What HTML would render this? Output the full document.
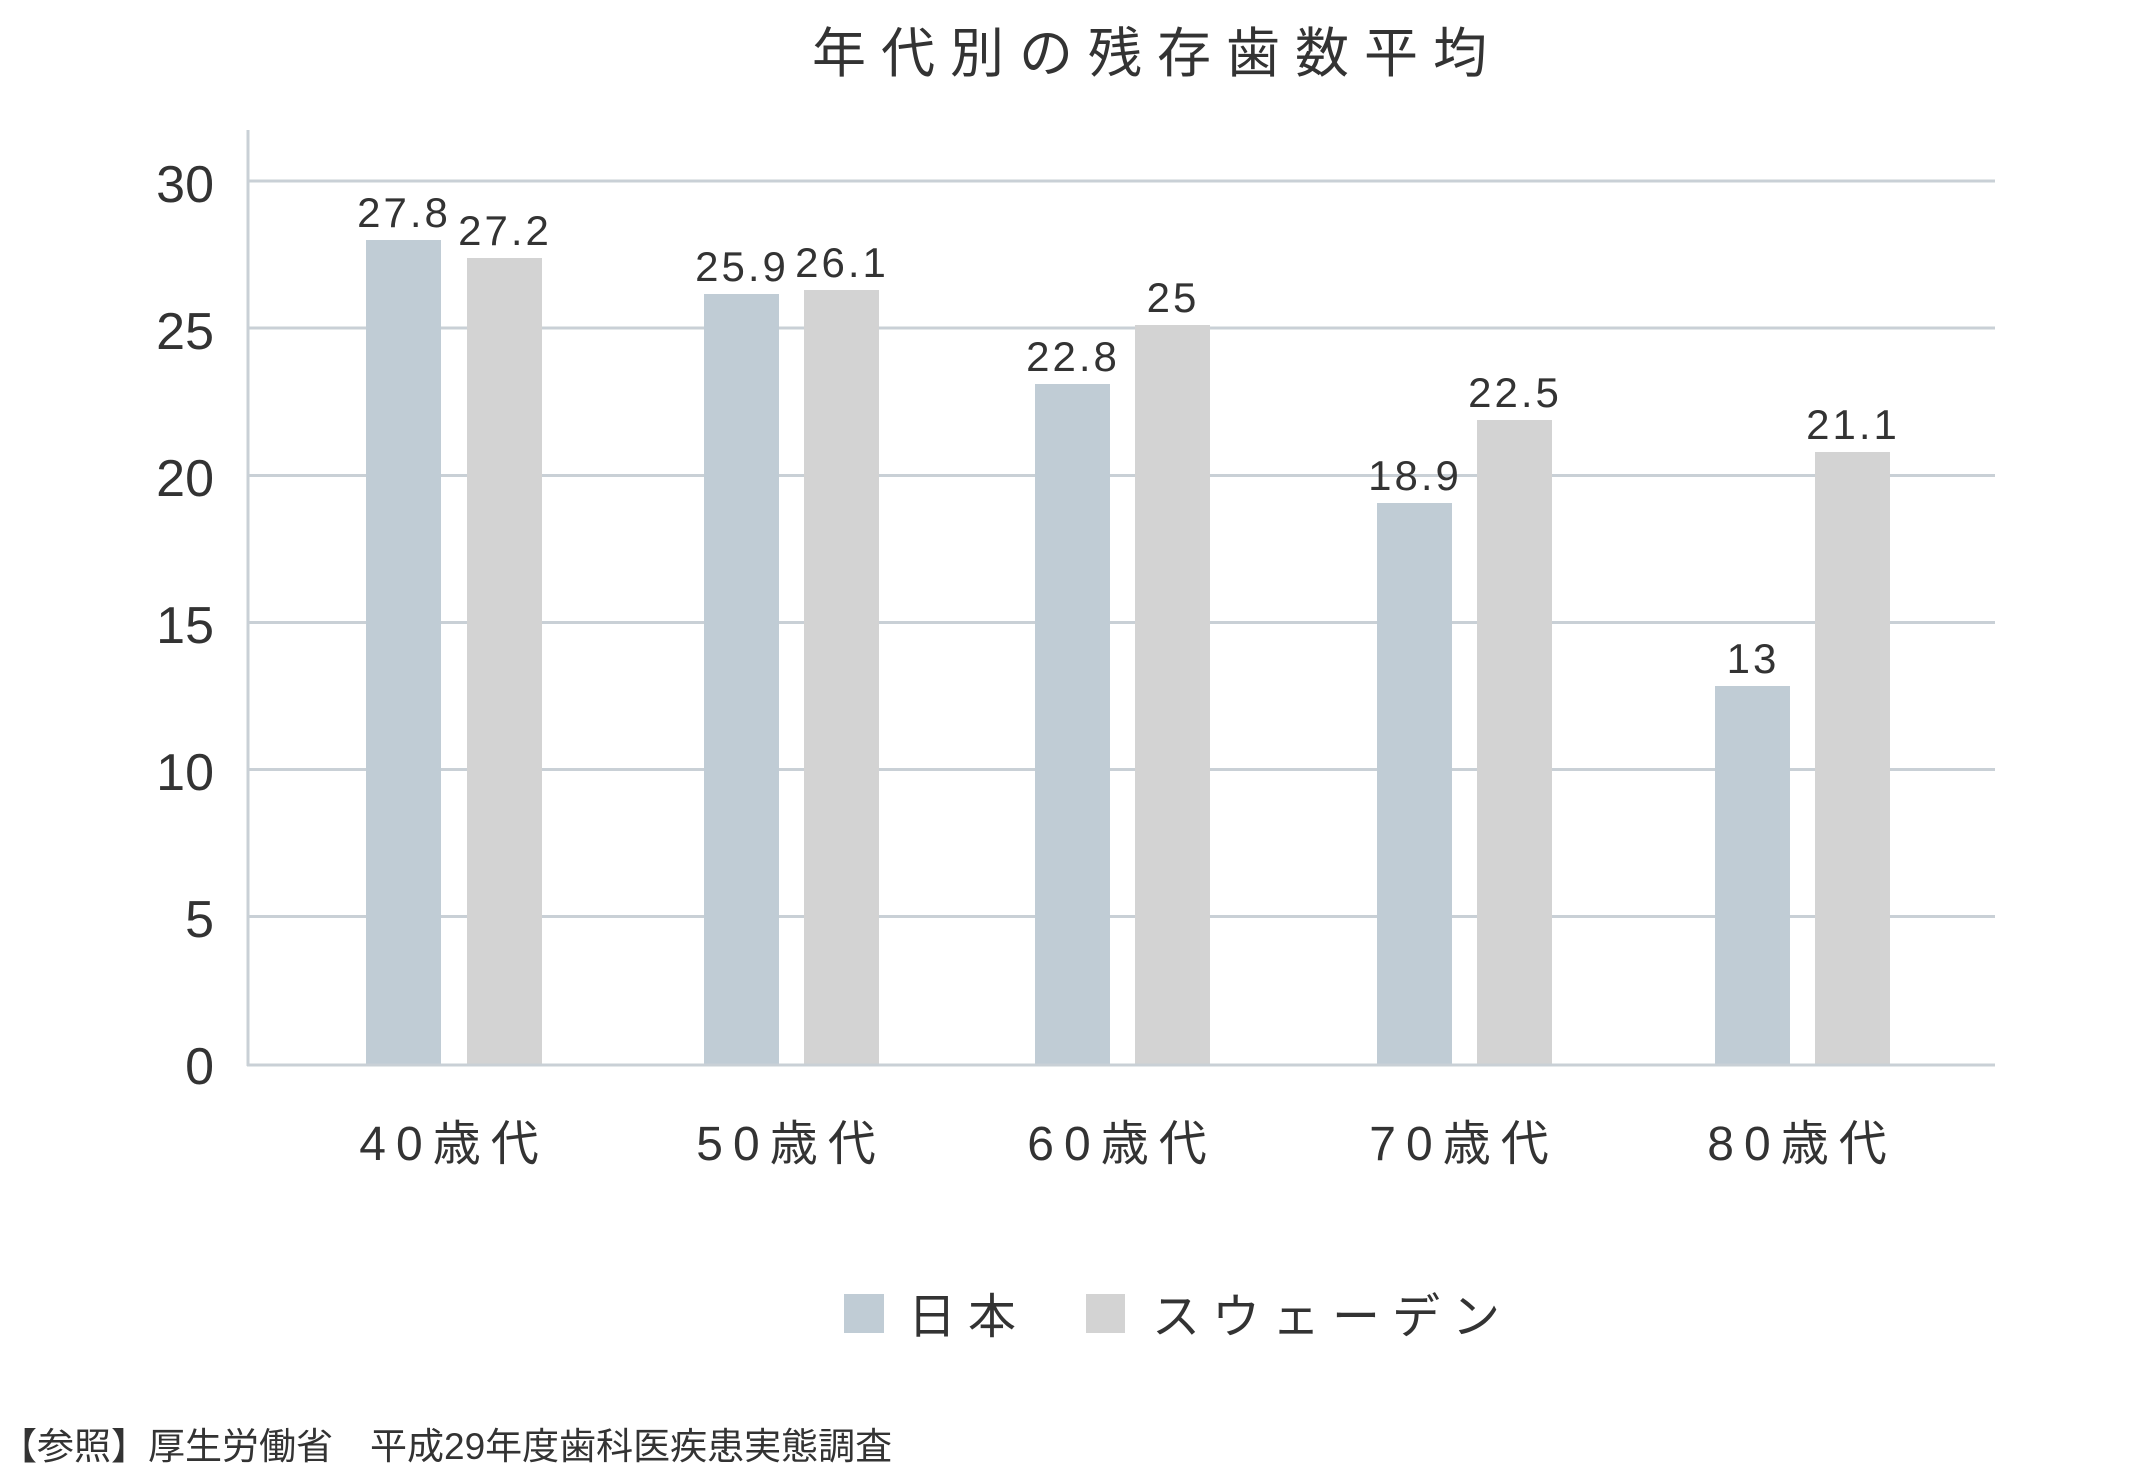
<!DOCTYPE html>
<html><head><meta charset="utf-8"><style>
html,body{margin:0;padding:0;background:#fff;}
svg{display:block;}
text{font-family:"Liberation Sans","Noto Sans CJK JP",sans-serif;fill:#333;}
</style></head><body>
<svg width="2152" height="1476" viewBox="0 0 2152 1476" xmlns="http://www.w3.org/2000/svg">
<text x="1157" y="72" font-size="54" text-anchor="middle" letter-spacing="15">年代別の残存歯数平均</text>
<g stroke="#c9d0d6" stroke-width="3">
<line x1="248" y1="181" x2="1995" y2="181"/>
<line x1="248" y1="328" x2="1995" y2="328"/>
<line x1="248" y1="475.5" x2="1995" y2="475.5"/>
<line x1="248" y1="622.5" x2="1995" y2="622.5"/>
<line x1="248" y1="769.5" x2="1995" y2="769.5"/>
<line x1="248" y1="916.5" x2="1995" y2="916.5"/>
</g>
<g font-size="52" text-anchor="end">
<text x="214" y="202">30</text>
<text x="214" y="349">25</text>
<text x="214" y="496">20</text>
<text x="214" y="643">15</text>
<text x="214" y="790">10</text>
<text x="214" y="937">5</text>
<text x="214" y="1084">0</text>
</g>
<g fill="#c0ccd5">
<rect x="366" y="240" width="75" height="824"/>
<rect x="704" y="294" width="75" height="770"/>
<rect x="1035" y="384" width="75" height="680"/>
<rect x="1377" y="503" width="75" height="561"/>
<rect x="1715" y="686" width="75" height="378"/>
</g>
<g fill="#d3d3d3">
<rect x="467" y="258" width="75" height="806"/>
<rect x="804" y="290" width="75" height="774"/>
<rect x="1135" y="325" width="75" height="739"/>
<rect x="1477" y="420" width="75" height="644"/>
<rect x="1815" y="452" width="75" height="612"/>
</g>
<line x1="248" y1="130" x2="248" y2="1066" stroke="#c9d0d6" stroke-width="3"/>
<line x1="247" y1="1065" x2="1995" y2="1065" stroke="#c9d0d6" stroke-width="3"/>
<g font-size="42" text-anchor="middle" letter-spacing="3">
<text x="404" y="227">27.8</text>
<text x="505" y="245">27.2</text>
<text x="742" y="281">25.9</text>
<text x="842" y="277">26.1</text>
<text x="1073" y="371">22.8</text>
<text x="1173" y="312">25</text>
<text x="1415" y="490">18.9</text>
<text x="1515" y="407">22.5</text>
<text x="1753" y="673">13</text>
<text x="1853" y="439">21.1</text>
</g>
<g font-size="48" text-anchor="middle" letter-spacing="10">
<text x="454" y="1160">40歳代</text>
<text x="791" y="1160">50歳代</text>
<text x="1122" y="1160">60歳代</text>
<text x="1464" y="1160">70歳代</text>
<text x="1802" y="1160">80歳代</text>
</g>
<rect x="844" y="1294" width="40" height="39" fill="#c0ccd5"/>
<text x="908" y="1333" font-size="48" letter-spacing="12">日本</text>
<rect x="1086" y="1294" width="39" height="39" fill="#d3d3d3"/>
<text x="1152" y="1333" font-size="48" letter-spacing="12">スウェーデン</text>
<text x="0" y="1459" font-size="37">【参照】厚生労働省　平成29年度歯科医疾患実態調査</text>
</svg>
</body></html>
